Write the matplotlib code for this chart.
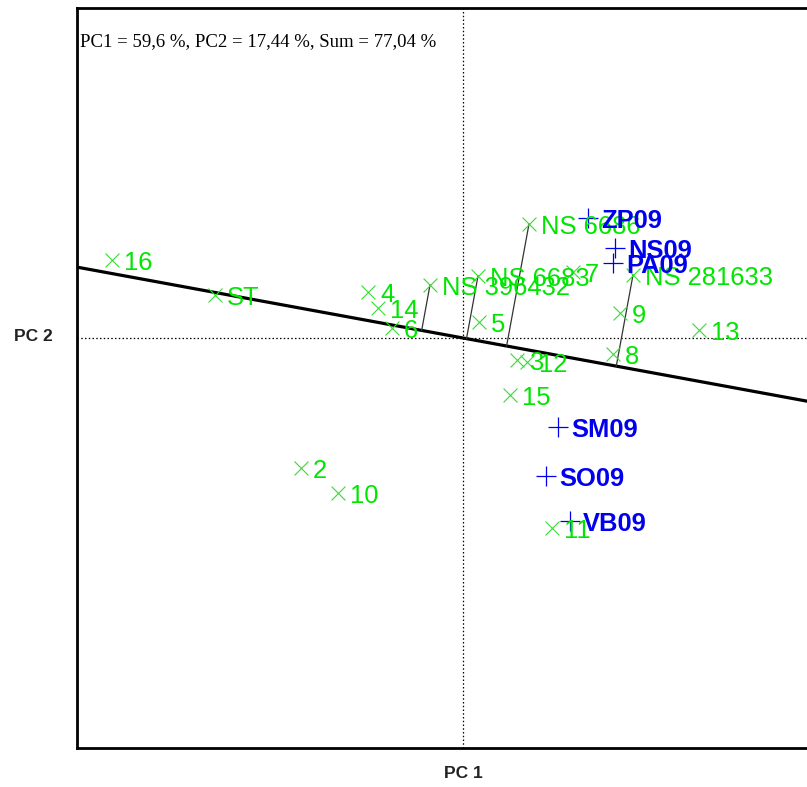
import numpy as np
import matplotlib
matplotlib.use("Agg")
import matplotlib.pyplot as plt

# ---- data ----
green_labels = ["16", "ST", "4", "14", "6", "NS 396432", "NS 6683", "NS 6686", "7",
                "NS 281633", "9", "13", "5", "8", "3", "12", "15", "11", "2", "10"]
green_x = [-3.51, -2.48, -0.95, -0.85, -0.71, -0.33, 0.15, 0.66, 1.10,
           1.70, 1.57, 2.36, 0.16, 1.50, 0.54, 0.64, 0.47, 0.89, -1.62, -1.25]
green_y = [0.78, 0.43, 0.46, 0.30, 0.10, 0.53, 0.62, 1.14, 0.66,
           0.63, 0.25, 0.08, 0.16, -0.16, -0.22, -0.24, -0.57, -1.90, -1.30, -1.55]

blue_labels = ["ZP09", "NS09", "PA09", "SM09", "SO09", "VB09"]
blue_x = [1.25, 1.52, 1.50, 0.95, 0.83, 1.07]
blue_y = [1.20, 0.90, 0.75, -0.89, -1.38, -1.83]

loading_direction = [1.0, -0.1836]
projected = ["NS 396432", "NS 6683", "NS 6686", "NS 281633"]

annotation = "PC1 = 59,6 %, PC2 = 17,44 %, Sum = 77,04 %"
xlabel = "PC 1"
ylabel = "PC 2"

# ---- figure ----
W, H = 807, 787
fig = plt.figure(figsize=(W / 100, H / 100), dpi=100)
left, right, top, bottom = 77, 807, 8, 748
ax = fig.add_axes([left / W, 1 - bottom / H, (right - left) / W, (bottom - top) / H])
ax.set_xlim(-3.86, 3.44)
ax.set_ylim(-4.10, 3.30)

for s in ["left", "top", "bottom"]:
    ax.spines[s].set_linewidth(2.0)
    ax.spines[s].set_color("black")
ax.spines["right"].set_visible(False)
ax.set_xticks([])
ax.set_yticks([])

# dotted zero lines
ax.axhline(0, color="black", lw=0.9, ls=(0, (1.2, 1.8)), zorder=1)
ax.axvline(0, color="black", lw=0.9, ls=(0, (1.2, 1.8)), zorder=1)

# loading line
dx, dy = loading_direction
ax.axline((0, 0), (dx, dy), color="black", lw=2.3, zorder=2)

# projection lines
d = np.array(loading_direction)
for name, x, y in zip(green_labels, green_x, green_y):
    if name in projected:
        p = np.array([x, y])
        foot = d * (p @ d) / (d @ d)
        ax.plot([x, foot[0]], [y, foot[1]], color="#333333", lw=0.9, zorder=2)

green = "#00E600"
mgreen = "#33DD33"
blue = "#0000EE"

ax.scatter(green_x, green_y, marker="x", s=100, color=mgreen, linewidths=0.8, zorder=3)
ax.scatter(blue_x, blue_y, marker="+", s=220, color=blue, linewidths=0.9, zorder=4)

off = 0.12
for name, x, y in zip(green_labels, green_x, green_y):
    ax.text(x + off, y, name, color=green, fontsize=18.4, family="Liberation Sans",
            va="center_baseline", ha="left", zorder=5)
for name, x, y in zip(blue_labels, blue_x, blue_y):
    ax.text(x + 0.13, y, name, color=blue, fontsize=18.4, family="Liberation Sans",
            fontweight="bold", va="center_baseline", ha="left", zorder=6)

ax.text(0.004, 0.954, annotation, transform=ax.transAxes, fontsize=13.5,
        family="Liberation Serif", va="center", ha="left", color="black")

fig.text(463 / W, 1 - 773 / H, xlabel, fontsize=12.5, fontweight="bold",
         family="Liberation Sans", ha="center", va="center", color="#222222")
fig.text(33 / W, 1 - 337 / H, ylabel, fontsize=12.5, fontweight="bold",
         family="Liberation Sans", ha="center", va="center", color="#222222")

fig.savefig("out.png", dpi=100, facecolor="white")
